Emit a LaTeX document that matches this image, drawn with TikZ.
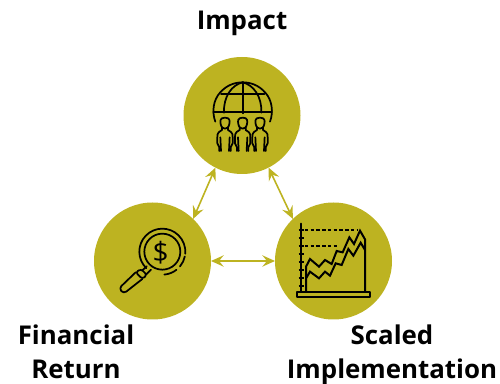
\documentclass[tikz,border=0pt]{standalone}
\usepackage{fontspec}
\setmainfont{Open Sans}
\usetikzlibrary{arrows.meta}
\definecolor{olive}{HTML}{BDB321}
\tikzset{
  disc/.style={circle,fill=olive,draw=none,minimum size=87.75pt,inner sep=0pt,outer sep=0pt},
  link/.style={draw=olive,line width=1.2pt,{Stealth[length=9.5pt,width=8.5pt,inset=3.5pt]}-{Stealth[length=9.5pt,width=8.5pt,inset=3.5pt]}},
  lbl/.style={font=\bfseries\fontsize{19.4}{19.4}\selectfont,text=black,inner sep=0pt,anchor=base},
  ico/.style={draw=black,line width=1.3pt,line join=round,line cap=round},
  zoomed/.style={x=0.25pt,y=-0.25pt}
}
\begin{document}
\begin{tikzpicture}[x=0.75pt,y=-0.75pt]
\useasboundingbox (0,0) rectangle (500,384);
\node[disc] (top) at (242,115.5) {};
\node[disc] (lft) at (152.5,261) {};
\node[disc] (rgt) at (333.5,261) {};
\draw[link] (top.-117) -- (lft.46);
\draw[link] (top.-63) -- (rgt.134);
\draw[link] (lft.0) -- (rgt.180);
\node[lbl] (t1) at (242,30) {Impact};
\node[lbl] (t2) at (76,345) {Financial};
\node[lbl] (t3) at (76,379) {Return};
\node[lbl] (t4) at (392,345) {Scaled};
\node[lbl] (t5) at (392,378.5) {Implementation};
% globe and people
\begin{scope}[shift={(170,50)},zoomed]
\draw[ico] (136,215) .. controls (125,185) and (130,150) .. (150,128) .. controls (170,105) and (195,97) .. (218,97) .. controls (241,97) and (266,105) .. (286,128) .. controls (306,150) and (311,185) .. (300,215);
\draw[ico] (130,185) -- (306,185);
\draw[ico] (153,133) -- (283,133);
\draw[ico] (218,97) -- (218,190);
\draw[ico] (218,97) .. controls (185,105) and (160,140) .. (162,188);
\draw[ico] (218,97) .. controls (251,105) and (276,140) .. (274,188);
\foreach \px in {165,218,270}{
  \begin{scope}[shift={(\px,0)}]
  \draw[ico] (0,203) .. controls (-15,203) and (-15,213) .. (-13,222) .. controls (-11,232) and (-6,236) .. (0,236) .. controls (6,236) and (11,232) .. (13,222) .. controls (15,213) and (15,203) .. (0,203) -- cycle;
  \draw[ico] (-9,232) -- (-9,240) -- (-18,246) .. controls (-23,250) and (-23,255) .. (-23,262) -- (-23,280) -- (-17,292) -- (-17,303);
  \draw[ico] (9,232) -- (9,240) -- (18,246) .. controls (23,250) and (23,255) .. (23,262) -- (23,280) -- (17,292) -- (17,303);
  \draw[ico] (-14,262) -- (-12,303);
  \draw[ico] (14,262) -- (12,303);
  \end{scope}
}
\end{scope}
% magnifier
\begin{scope}[shift={(85,195)},zoomed]
\draw[ico] (232,170) circle[radius=54];
\draw[ico] (232,170) ++(-226:69) arc[start angle=-226,end angle=5,radius=69];
\draw[ico] (232,170) ++(12:69) arc[start angle=12,end angle=40,radius=69];
\draw[ico] (232,170) ++(52:69) arc[start angle=52,end angle=85,radius=69];
\draw[ico] (185,214) -- (172,226);
\draw[ico] (198,224) -- (184,238);
\draw[ico,rounded corners=2pt] (152,232) -- (168,222) -- (186,240) -- (172,252) -- cycle;
\draw[ico,rounded corners=2.5pt] (152,232) -- (102,280) -- (116,296) -- (172,252);
\node[inner sep=0pt,font=\fontsize{21}{21}\selectfont] (dollar) at (227,172) {\$};
\end{scope}
% chart
\begin{scope}[shift={(270,195)},zoomed]
\draw[ico,line width=1.4pt] (80,290) rectangle (300,307);
\draw[ico,line width=1.4pt] (94,86) -- (94,290);
\foreach \ty in {105,128,152,177,200,225,248,272}{\draw[ico,line cap=butt,line width=1.3pt] (86,\ty) -- (102,\ty);}
\draw[ico,line cap=butt,line width=1.3pt,dash pattern=on 2.6pt off 1.7pt] (105,105) -- (265,105);
\draw[ico,line cap=butt,line width=1.3pt,dash pattern=on 2.6pt off 1.7pt] (105,152) -- (205,152);
\draw[ico,line join=miter,line width=1.5pt] (108,288) -- (108,215) -- (120,192) -- (147,215) -- (165,195) -- (185,207) -- (200,168) -- (218,172) -- (238,127) -- (252,147) -- (270,107) -- (285,133) -- (285,288);
\draw[ico,line join=miter,line width=1.5pt] (108,250) -- (120,230) -- (147,250) -- (165,230) -- (180,242) -- (197,205) -- (215,210) -- (235,162) -- (250,182) -- (272,143) -- (285,165);
\end{scope}
\end{tikzpicture}
\end{document}
